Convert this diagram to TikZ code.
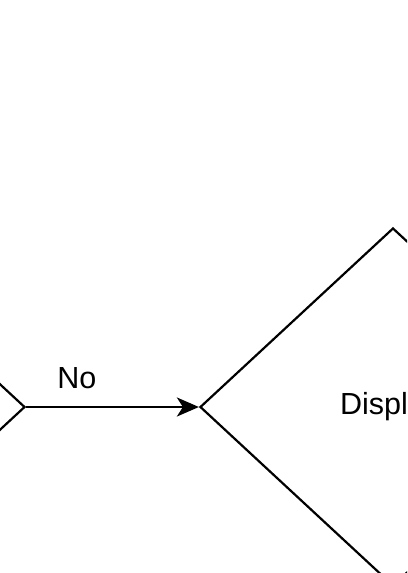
\documentclass[tikz,border=0pt]{standalone}
\usepackage{fontspec}
\setmainfont{Liberation Sans}
\usetikzlibrary{shapes.geometric,arrows.meta}

\tikzset{
  decision/.style={diamond,draw,line width=2.2pt,inner sep=0pt,aspect=1,
    minimum width=386pt,minimum height=358pt,font=\fontsize{30.5}{36}\selectfont},
  flow/.style={line width=2.2pt,-{Stealth[length=22pt,width=19pt,inset=6pt]}}
}

\begin{document}
\begin{tikzpicture}[x=1pt,y=-1pt]
\useasboundingbox (0,0) rectangle (407,573);
\clip (0,0) rectangle (407,573);

% decisions
\node[decision] (check) at (-168,407) {};
\node[decision] (show) at (393,407) {\hspace*{-6pt}Display};

% flow
\draw[flow] (check.east) -- (show.west)
  node[pos=0.294,above=14pt,font=\fontsize{30.5}{36}\selectfont] (no) {No};

\end{tikzpicture}
\end{document}
